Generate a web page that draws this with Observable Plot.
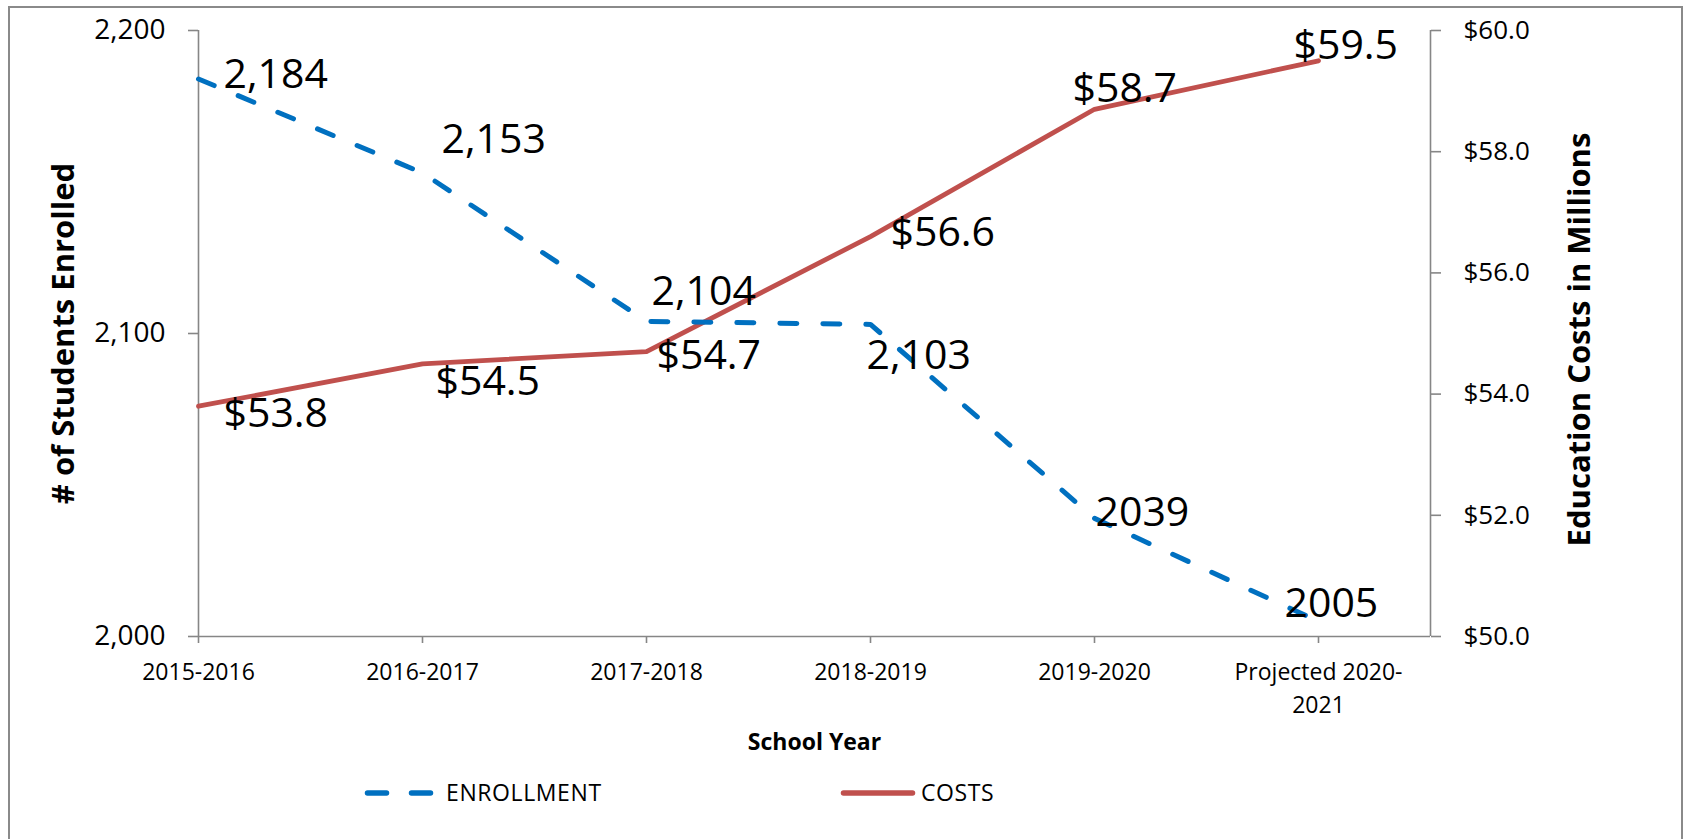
<!DOCTYPE html>
<html>
<head>
<meta charset="utf-8">
<script src="https://cdn.jsdelivr.net/npm/d3@7"></script>
<script src="https://cdn.jsdelivr.net/npm/@observablehq/plot@0.6"></script>
<style>
  html, body { margin: 0; padding: 0; background: #fff; }
  #wrap { position: relative; width: 1689px; height: 839px; overflow: hidden; font-family: 'Open Sans', sans-serif; }
  #chart { position: absolute; left: 0; top: 0; }
  #border { position: absolute; left: 8px; top: 6px; width: 1675px; height: 900px; border: 2px solid #8a8a8a; box-sizing: border-box; pointer-events: none; }
  #legend { position: absolute; left: 0; top: 775px; }
</style>
</head>
<body>
<div id="wrap">
  <div id="chart"></div>
  <svg id="legend" width="1689" height="40" font-family="'Open Sans', sans-serif"></svg>
  <div id="border"></div>
</div>
<script>
// ---- data ----
const schoolYears = ["2015-2016", "2016-2017", "2017-2018", "2018-2019", "2019-2020", "Projected 2020-2021"];
const enrollment = [2184, 2153, 2104, 2103, 2039, 2005];
const enrollmentLabels = ["2,184", "2,153", "2,104", "2,103", "2039", "2005"];
const costs = [53.8, 54.5, 54.7, 56.6, 58.7, 59.5];
const costLabels = ["$53.8", "$54.5", "$54.7", "$56.6", "$58.7", "$59.5"];
const enrollmentTicks = [2000, 2100, 2200];
const costTicks = [50, 52, 54, 56, 58, 60];
const seriesNames = ["ENROLLMENT", "COSTS"];
const axisTitles = { x: "School Year", left: "# of Students Enrolled", right: "Education Costs in Millions" };

// ---- chart ----
const blue = "#0070C0", red = "#C0504D", gray = "#868686";
const enrollDomain = [d3.min(enrollmentTicks), d3.max(enrollmentTicks)];
const costDomain = [d3.min(costTicks), d3.max(costTicks)];
const costToY = d3.scaleLinear(costDomain, enrollDomain); // second axis mapped onto the primary y scale
const idx = d3.range(schoolYears.length);

const wrapLabel = s => s.replace(/^(Projected \d{4}-)/, "$1\n");

// label nudges (layout only)
const enrollNudge = [[25, -4], [19, -33], [5, -30], [-4, 31], [1, -5], [-34, -17]];
const costNudge = [[25, 8], [13, 18], [10, 4], [20, -4], [-22, -20], [-25, -15]];

const labelMarks = [];
idx.forEach(i => {
  labelMarks.push(Plot.text([i], {
    x: d => d, y: d => enrollment[d], text: d => enrollmentLabels[d],
    dx: enrollNudge[i][0], dy: enrollNudge[i][1],
    textAnchor: "start", lineAnchor: "middle", fontSize: 41, fill: "#000"
  }));
  labelMarks.push(Plot.text([i], {
    x: d => d, y: d => costToY(costs[d]), text: d => costLabels[d],
    dx: costNudge[i][0], dy: costNudge[i][1],
    textAnchor: "start", lineAnchor: "middle", fontSize: 41, fill: "#000"
  }));
});

const chart = Plot.plot({
  width: 1689,
  height: 839,
  marginLeft: 198,
  marginRight: 259,
  marginTop: 30,
  marginBottom: 203,
  style: { fontFamily: "'Open Sans', sans-serif", background: "transparent", color: "#000" },
  x: { type: "linear", domain: [0, schoolYears.length - 0.5], axis: null },
  y: { domain: enrollDomain, axis: null },
  marks: [
    Plot.ruleX([0], { stroke: gray, strokeWidth: 1.6 }),
    Plot.ruleX([schoolYears.length - 0.5], { stroke: gray, strokeWidth: 1.6 }),
    Plot.ruleY([enrollDomain[0]], { stroke: gray, strokeWidth: 1.6 }),
    Plot.axisY({
      anchor: "left", ticks: enrollmentTicks, tickFormat: d3.format(","),
      tickSize: 10, tickPadding: 23, fontSize: 28, stroke: gray, strokeWidth: 1.6, fill: "#000", label: null
    }),
    Plot.axisY({
      anchor: "right", ticks: costTicks.map(c => costToY(c)),
      tickFormat: d => "$" + costToY.invert(d).toFixed(1),
      tickSize: 10, tickPadding: 23, fontSize: 26, stroke: gray, strokeWidth: 1.6, fill: "#000", label: null
    }),
    Plot.axisX({
      anchor: "bottom", ticks: idx, tickFormat: i => wrapLabel(schoolYears[i]),
      tickSize: 7, tickPadding: 14, fontSize: 23, lineHeight: 1.4,
      stroke: gray, strokeWidth: 1.6, fill: "#000", label: null
    }),
    Plot.line(idx, {
      x: i => i, y: i => costToY(costs[i]),
      stroke: red, strokeWidth: 4.8, strokeLinejoin: "round", strokeLinecap: "round"
    }),
    Plot.line(idx, {
      x: i => i, y: i => enrollment[i],
      stroke: blue, strokeWidth: 5, strokeDasharray: "17,26", strokeLinejoin: "round", strokeLinecap: "round"
    }),
    ...labelMarks,
    Plot.text([axisTitles.left], {
      text: d => d, frameAnchor: "left", textAnchor: "middle", lineAnchor: "middle",
      dx: -134, rotate: -90, fontSize: 31, fontWeight: "bold", fill: "#000"
    }),
    Plot.text([axisTitles.right], {
      text: d => d, frameAnchor: "right", textAnchor: "middle", lineAnchor: "middle",
      dx: 150, dy: 6, rotate: -90, fontSize: 31, fontWeight: "bold", fill: "#000"
    }),
    Plot.text([axisTitles.x], {
      text: d => d, frameAnchor: "bottom", textAnchor: "middle", lineAnchor: "middle",
      dy: 106, fontSize: 23, fontWeight: "bold", fill: "#000"
    })
  ]
});
document.getElementById("chart").appendChild(chart);

// ---- legend ----
const leg = d3.select("#legend");
const ly = 18;
leg.append("line").attr("x1", 367.5).attr("x2", 430.5).attr("y1", ly).attr("y2", ly)
  .attr("stroke", blue).attr("stroke-width", 5.5).attr("stroke-linecap", "round").attr("stroke-dasharray", "19,25");
leg.append("text").attr("x", 446).attr("y", ly).attr("dy", "0.35em").attr("font-size", 23).attr("fill", "#000")
  .attr("letter-spacing", 0.6).text(seriesNames[0]);
leg.append("line").attr("x1", 843.5).attr("x2", 912.5).attr("y1", ly).attr("y2", ly)
  .attr("stroke", red).attr("stroke-width", 5.5).attr("stroke-linecap", "round");
leg.append("text").attr("x", 921).attr("y", ly).attr("dy", "0.35em").attr("font-size", 23).attr("fill", "#000")
  .attr("letter-spacing", 0.6).text(seriesNames[1]);
</script>
</body>
</html>
